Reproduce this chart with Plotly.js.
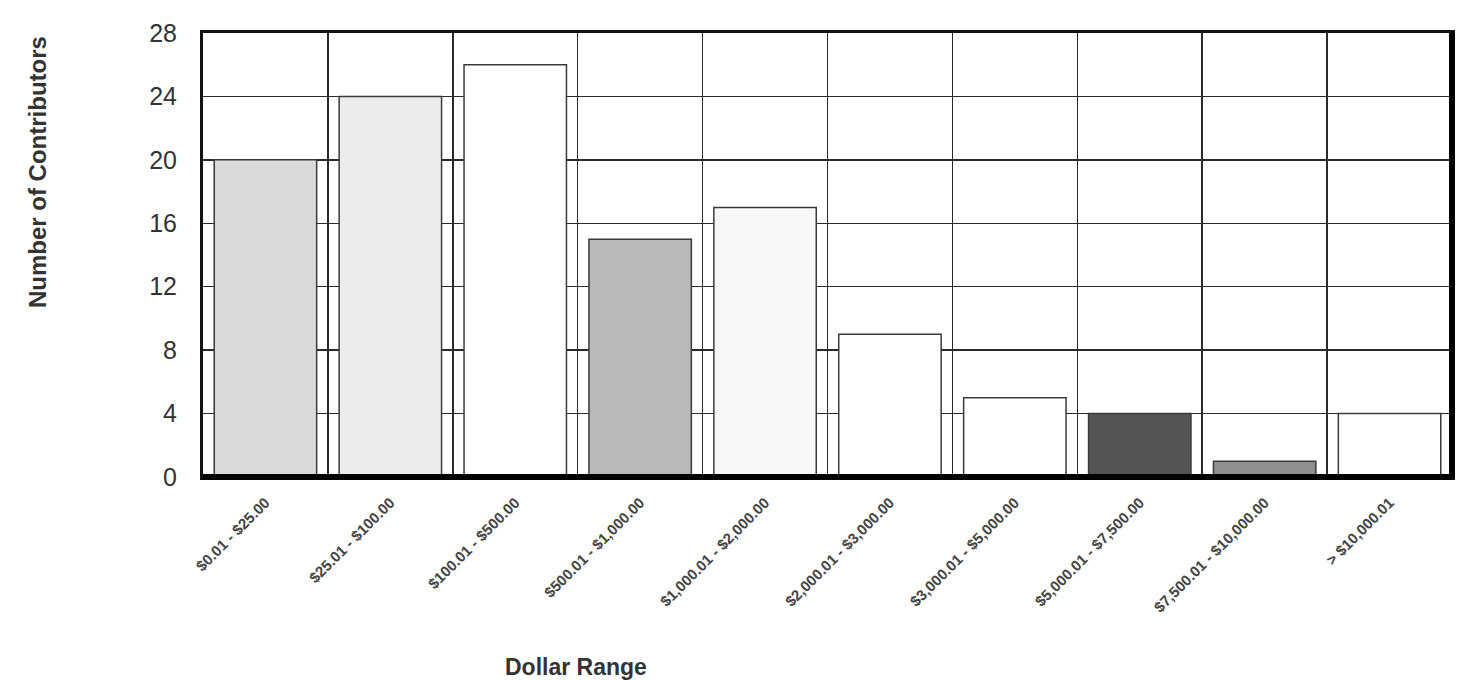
<!DOCTYPE html>
<html>
<head>
<meta charset="utf-8">
<script src="https://cdn.plot.ly/plotly-3.0.1.min.js"></script>
<style>
html,body{margin:0;padding:0;background:#fff;}
#chart{width:1463px;height:680px;}
</style>
</head>
<body>
<div id="chart"></div>
<script>
const categories = [
  "$0.01 - $25.00",
  "$25.01 - $100.00",
  "$100.01 - $500.00",
  "$500.01 - $1,000.00",
  "$1,000.01 - $2,000.00",
  "$2,000.01 - $3,000.00",
  "$3,000.01 - $5,000.00",
  "$5,000.01 - $7,500.00",
  "$7,500.01 - $10,000.00",
  "> $10,000.01"
];
const contributors = [20, 24, 26, 15, 17, 9, 5, 4, 1, 4];
const barColors = ["#d9d9d9", "#ececec", "#ffffff", "#b9b9b9", "#f7f7f7", "#ffffff", "#ffffff", "#555555", "#8f8f8f", "#ffffff"];
const yTicks = [0, 4, 8, 12, 16, 20, 24, 28];

const trace = {
  type: "bar",
  x: categories,
  y: contributors,
  width: 0.82,
  marker: {color: barColors, line: {color: "#3a3a3a", width: 1.5}},
  hoverinfo: "x+y"
};

const layout = {
  width: 1463,
  height: 680,
  margin: {l: 203, r: 11, t: 33, b: 203},
  paper_bgcolor: "#ffffff",
  plot_bgcolor: "#ffffff",
  showlegend: false,
  font: {family: "Liberation Sans, Arial, sans-serif", color: "#333"},
  xaxis: {
    type: "category",
    tickangle: -45,
    tickfont: {size: 15, color: "#444", weight: "bold"},
    showgrid: true,
    gridcolor: "#2a2a2a",
    gridwidth: 1.5,
    tickson: "boundaries",
    ticks: "",
    showline: true,
    linecolor: "#111",
    linewidth: 3,
    mirror: true,
    ticklabelstandoff: 8
  },
  yaxis: {
    range: [0, 28],
    tickvals: yTicks,
    ticktext: yTicks.map(String),
    tickfont: {size: 25, color: "#333"},
    showgrid: true,
    gridcolor: "#2a2a2a",
    gridwidth: 1.5,
    zeroline: false,
    showline: true,
    linecolor: "#111",
    linewidth: 3,
    mirror: true,
    ticks: "",
    ticklabelstandoff: 18
  },
  shapes: [
    {type: "line", xref: "paper", yref: "paper", x0: 0, x1: 1, y0: 0, y1: 0,
     line: {color: "#000", width: 6}},
    {type: "line", xref: "paper", yref: "paper", x0: 1, x1: 1, y0: 0, y1: 1,
     line: {color: "#000", width: 6}}
  ],
  annotations: [
    {
      text: "Number of Contributors",
      xref: "paper", yref: "paper",
      x: -0.132, y: 0.687,
      xanchor: "center", yanchor: "middle",
      textangle: -90,
      showarrow: false,
      font: {size: 24, color: "#333", weight: "bold"}
    },
    {
      text: "Dollar Range",
      xref: "paper", yref: "paper",
      x: 0.299, y: -0.428,
      xanchor: "center", yanchor: "middle",
      showarrow: false,
      font: {size: 23, color: "#333", weight: "bold"}
    }
  ]
};

Plotly.newPlot("chart", [trace], layout, {displayModeBar: false, staticPlot: true});
</script>
</body>
</html>
